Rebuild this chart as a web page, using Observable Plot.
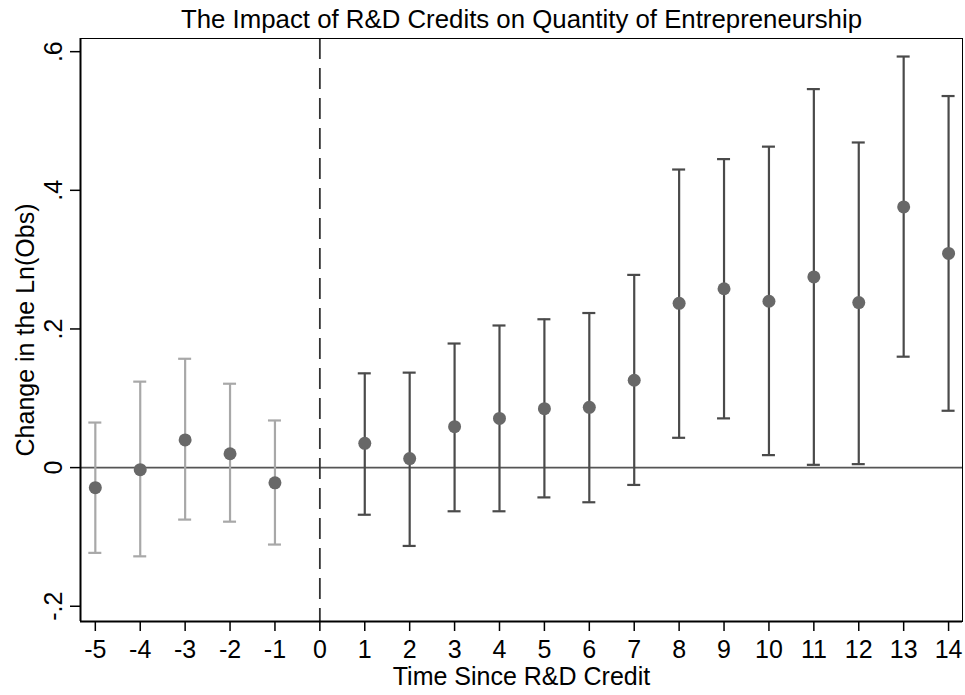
<!DOCTYPE html>
<html>
<head>
<meta charset="utf-8">
<script src="https://cdn.jsdelivr.net/npm/d3@7"></script>
<script src="https://cdn.jsdelivr.net/npm/@observablehq/plot@0.6"></script>
<style>
  html, body { margin: 0; padding: 0; background: white; }
</style>
</head>
<body>
<div id="chart"></div>
<script>
// Event time relative to the R&D credit
const times = [-5, -4, -3, -2, -1, 1, 2, 3, 4, 5, 6, 7, 8, 9, 10, 11, 12, 13, 14];
// Point estimates
const coef = [-0.029, -0.003, 0.040, 0.020, -0.022, 0.035, 0.013, 0.059, 0.071, 0.085, 0.087, 0.126, 0.237, 0.258, 0.240, 0.275, 0.238, 0.376, 0.309];
// Lower confidence bounds
const lower = [-0.123, -0.128, -0.075, -0.078, -0.111, -0.068, -0.113, -0.063, -0.063, -0.043, -0.050, -0.025, 0.043, 0.071, 0.018, 0.004, 0.005, 0.160, 0.082];
// Upper confidence bounds
const upper = [0.065, 0.124, 0.157, 0.121, 0.068, 0.136, 0.137, 0.179, 0.205, 0.214, 0.223, 0.278, 0.430, 0.445, 0.463, 0.546, 0.469, 0.593, 0.536];

const xTicks = [-5, -4, -3, -2, -1, 0, 1, 2, 3, 4, 5, 6, 7, 8, 9, 10, 11, 12, 13, 14];
const yTicks = [-0.2, 0, 0.2, 0.4, 0.6];
const yTickLabels = ["-.2", "0", ".2", ".4", ".6"];

const title = "The Impact of R&D Credits on Quantity of Entrepreneurship";
const xLabel = "Time Since R&D Credit";
const yLabel = "Change in the Ln(Obs)";

const rows = times.map((t, i) => ({t, coef: coef[i], lo: lower[i], hi: upper[i], pre: t < 0}));
const yTickRows = yTicks.map((v, i) => ({v, label: yTickLabels[i]}));

const xDomain = [-5.33, 14.31];
const yDomain = [-0.222, 0.619];
const barColor = d => d.pre ? "#a8a8a8" : "#4a4a4a";
const font = "'Liberation Sans', Arial, Helvetica, sans-serif";

const chart = Plot.plot({
  width: 965,
  height: 695,
  marginLeft: 80,
  marginRight: 3,
  marginTop: 38,
  marginBottom: 74,
  style: {fontFamily: font, background: "white", color: "black"},
  x: {domain: xDomain},
  y: {domain: yDomain},
  marks: [
    Plot.ruleY([0], {stroke: "#555", strokeWidth: 1.6}),
    Plot.ruleX([0], {stroke: "#333", strokeWidth: 1.8, strokeDasharray: "21,9"}),
    Plot.ruleX(rows, {x: "t", y1: "lo", y2: "hi", stroke: barColor, strokeWidth: 2.2}),
    Plot.ruleY(rows, {y: "hi", x1: "t", x2: "t", insetLeft: -6.5, insetRight: -6.5, stroke: barColor, strokeWidth: 2.2}),
    Plot.ruleY(rows, {y: "lo", x1: "t", x2: "t", insetLeft: -6.5, insetRight: -6.5, stroke: barColor, strokeWidth: 2.2}),
    Plot.dot(rows, {x: "t", y: "coef", r: 6.5, fill: "#686868", stroke: "none"}),
    Plot.frame({stroke: "black", strokeWidth: 1}),
    Plot.ruleX([xDomain[0]], {stroke: "black", strokeWidth: 2}),
    Plot.ruleY([yDomain[0]], {stroke: "black", strokeWidth: 2}),
    Plot.axisX({ticks: xTicks, tickSize: 10, tickPadding: 9, tickFormat: d => String(d), fontSize: 25, label: null, strokeWidth: 1.5}),
    Plot.axisY({ticks: yTicks, tickSize: 10, tickFormat: () => "", label: null, strokeWidth: 1.5}),
    Plot.text(yTickRows, {y: "v", text: "label", frameAnchor: "left", dx: -19, rotate: -90, textAnchor: "middle", lineAnchor: "bottom", fontSize: 25, fill: "black"}),
    Plot.text([title], {frameAnchor: "top", dy: -11, lineAnchor: "bottom", fontSize: 25.8, fill: "black"}),
    Plot.text([xLabel], {frameAnchor: "bottom", dy: 46, lineAnchor: "top", fontSize: 25, fill: "black"}),
    Plot.text([yLabel], {frameAnchor: "left", dx: -47, rotate: -90, textAnchor: "middle", lineAnchor: "bottom", fontSize: 25, fill: "black"})
  ]
});
document.getElementById("chart").append(chart);
</script>
</body>
</html>
